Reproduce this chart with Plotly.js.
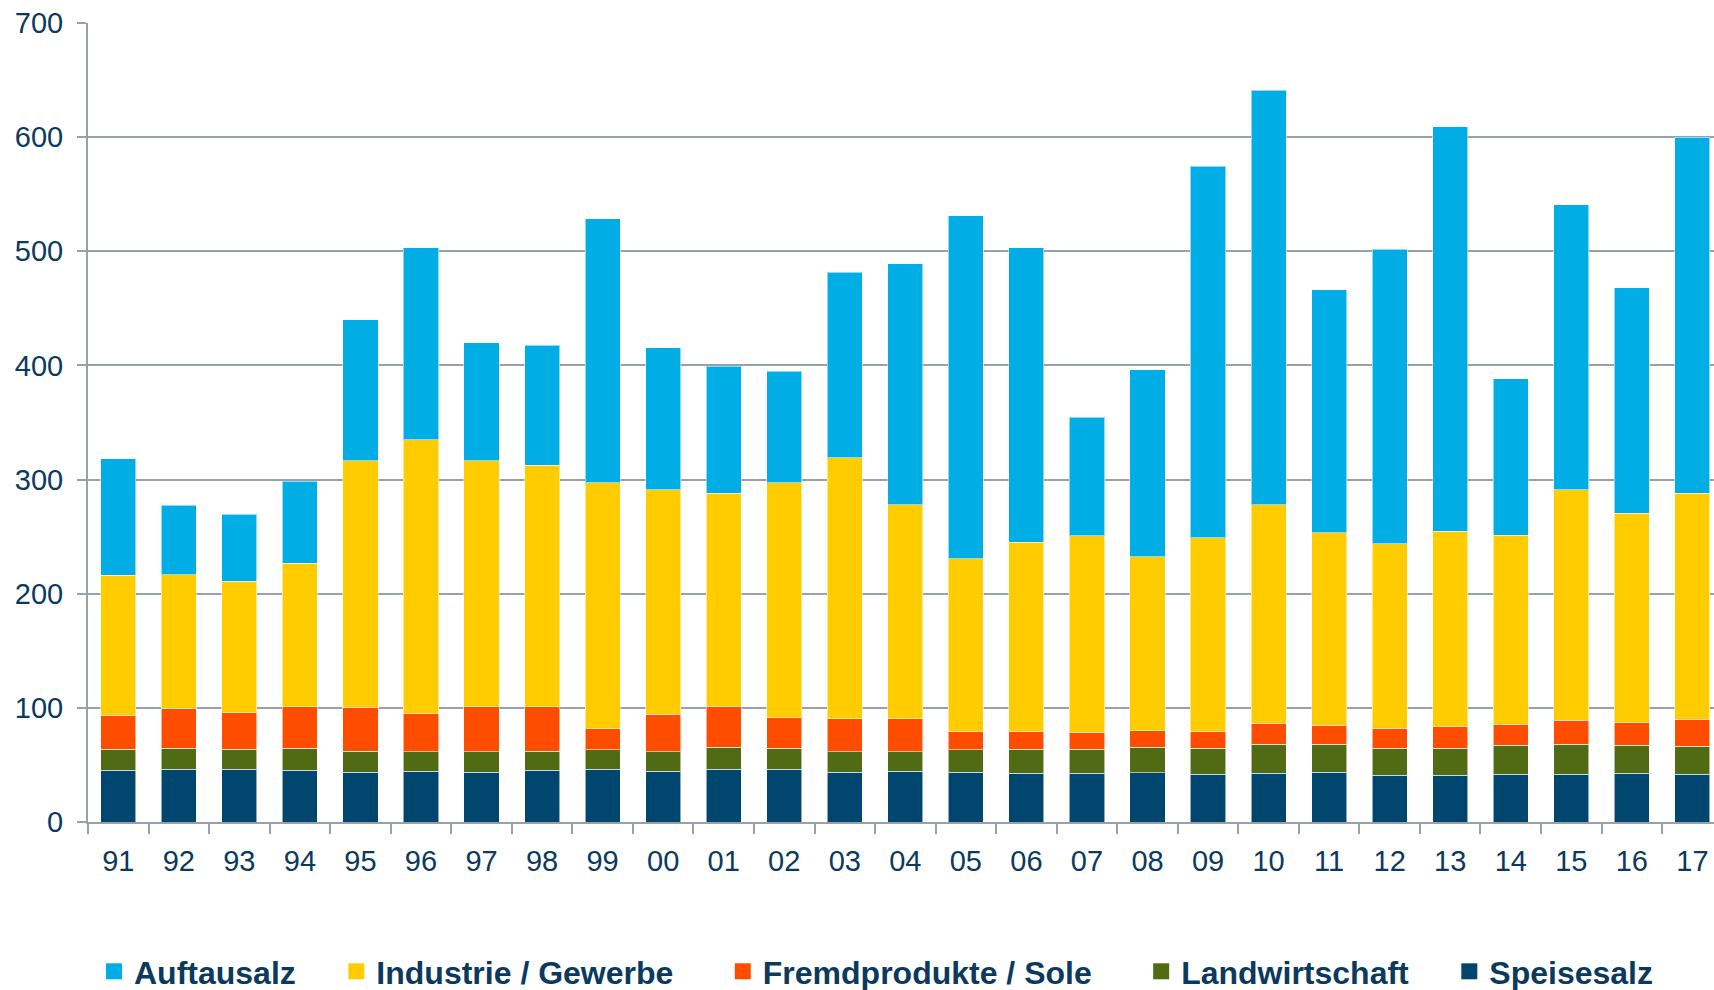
<!DOCTYPE html>
<html>
<head>
<meta charset="utf-8">
<script src="https://cdn.plot.ly/plotly-3.0.1.min.js"></script>
<style>html,body{margin:0;padding:0;background:#fff;}#chart{width:1714px;height:990px;}</style>
</head>
<body>
<div id="chart"></div>
<script>
const years = ['91','92','93','94','95','96','97','98','99','00','01','02','03','04','05','06','07','08','09','10','11','12','13','14','15','16','17'];

const speisesalz = [45.5,46.4,46.4,45.5,43.8,44.3,43.8,45.5,46.4,44.3,46.4,46.4,43.8,44.3,43.8,42.6,42.6,43.2,41.7,42.6,43.8,40.8,40.8,41.7,41.7,42.6,41.7];
const landwirtschaft = [18.1,18.1,17.2,19.0,18.1,17.3,17.8,16.4,16.7,17.3,19.0,18.1,17.8,17.3,19.3,21.0,21.0,22.2,22.8,25.7,24.5,23.7,23.7,25.4,26.6,24.5,24.5];
const fremdprodukte = [29.8,35.0,32.2,36.5,38.5,33.3,39.4,39.1,18.6,32.7,35.9,26.9,28.9,28.9,16.0,15.5,14.9,14.6,14.6,18.1,16.3,17.5,19.3,18.4,20.7,20.2,23.7];
const industrie = [122.7,117.2,115.0,125.6,215.9,239.8,215.3,211.4,215.6,196.8,186.6,205.9,228.7,187.5,151.6,165.9,172.1,152.4,170.0,191.6,168.9,161.6,171.1,165.6,202.1,183.1,198.0];
const auftausalz = [102.2,61.0,58.7,71.8,123.9,168.2,103.4,105.5,231.3,124.4,111.3,97.8,162.3,211.1,300.5,257.9,103.9,163.6,325.6,363.3,212.9,258.4,354.3,137.3,249.5,197.5,312.2];

const seriesNames = ['Speisesalz','Landwirtschaft','Fremdprodukte / Sole','Industrie / Gewerbe','Auftausalz'];
const seriesValues = [speisesalz, landwirtschaft, fremdprodukte, industrie, auftausalz];
const seriesColors = ['#00466F','#506B14','#FF4D00','#FFCC00','#00AEE5'];
// trailing spacing after each legend label (legend is drawn in reverse order)
const legendPad = [0, 4, 5, 5, 4];

const barTraces = seriesNames.map((name, i) => ({
  type: 'bar',
  name: name,
  x: years,
  y: seriesValues[i],
  marker: {color: seriesColors[i], line: {color: 'rgba(255,255,255,0.55)', width: 1}},
  showlegend: false,
  legendgroup: name,
  hoverinfo: 'x+y+name'
}));
// legend-only entries with larger square swatches
const legendTraces = seriesNames.map((name, i) => ({
  type: 'scatter',
  mode: 'markers',
  name: name + '\u00A0'.repeat(legendPad[i]),
  x: [null], y: [null],
  marker: {symbol: 'square', size: 17, color: seriesColors[i]},
  legendgroup: name,
  showlegend: true,
  hoverinfo: 'skip'
}));

const textColor = '#0B3A5E';
const gridColor = '#9AA0AA';
const layout = {
  width: 1714, height: 990,
  margin: {l: 88, r: 0, t: 23, b: 168},
  paper_bgcolor: '#ffffff', plot_bgcolor: '#ffffff',
  barmode: 'stack',
  bargap: 0.42,
  font: {family: 'Arial, "Liberation Sans", sans-serif', color: textColor},
  xaxis: {
    type: 'category',
    range: [-0.5, 26.357],
    tickson: 'boundaries',
    ticks: 'outside', ticklen: 10, tickwidth: 2, tickcolor: gridColor,
    showline: true, linecolor: gridColor, linewidth: 2,
    showgrid: false,
    tickfont: {size: 29, color: textColor},
    ticklabelstandoff: 12
  },
  yaxis: {
    range: [0, 700], dtick: 100,
    ticks: 'outside', ticklen: 9, tickwidth: 2, tickcolor: gridColor,
    showline: true, linecolor: gridColor, linewidth: 2,
    showgrid: true, gridcolor: gridColor, gridwidth: 2,
    zeroline: false,
    tickfont: {size: 29, color: textColor},
    ticklabelstandoff: 8
  },
  legend: {
    orientation: 'h',
    traceorder: 'reversed',
    xref: 'container', yref: 'container',
    x: 94/1714, y: 1 - 944/990,
    xanchor: 'left', yanchor: 'top',
    font: {size: 32, color: textColor, weight: 'bold'},
    bgcolor: 'rgba(0,0,0,0)'
  },
  showlegend: true
};

Plotly.newPlot('chart', barTraces.concat(legendTraces), layout, {displayModeBar: false, staticPlot: true});
</script>
</body>
</html>
